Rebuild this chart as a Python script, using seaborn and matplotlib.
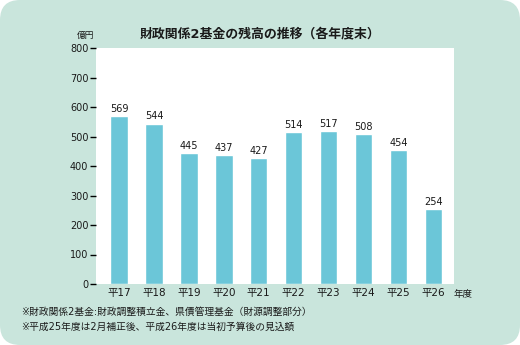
import matplotlib
matplotlib.use("Agg")
import matplotlib.pyplot as plt
import seaborn as sns
import pandas as pd
from matplotlib.patches import FancyBboxPatch

years = ["平17", "平18", "平19", "平20", "平21", "平22", "平23", "平24", "平25", "平26"]
values = [569, 544, 445, 437, 427, 514, 517, 508, 454, 254]
yticks = [0, 100, 200, 300, 400, 500, 600, 700, 800]
title = "財政関係2基金の残高の推移（各年度末）"
note1 = "※財政関係2基金:財政調整積立金、県債管理基金（財源調整部分）"
note2 = "※平成25年度は2月補正後、平成26年度は当初予算後の見込額"

sns.set_theme(style="white")
FAM = ["DejaVu Sans", "Noto Sans CJK JP"]
plt.rcParams["font.family"] = FAM

BG = "#C9E5DC"
BAR = "#6BC6D8"
TXT = "#1a1a1a"

fig = plt.figure(figsize=(5.2, 3.45), dpi=100)
fig.patch.set_facecolor("white")

# background rounded panel
bgax = fig.add_axes([0, 0, 1, 1], zorder=0)
bgax.set_xlim(0, 520)
bgax.set_ylim(0, 345)
bgax.axis("off")
bgax.add_patch(FancyBboxPatch((0, 0), 520, 345, boxstyle="round,pad=0,rounding_size=20",
                              facecolor=BG, edgecolor="none"))

ax = fig.add_axes([96/520, 61/345, 358/520, 236/345], zorder=1)
ax.set_facecolor("white")
df = pd.DataFrame({"year": years, "value": values})
sns.barplot(data=df, x="year", y="value", color=BAR, saturation=1, width=0.5, ax=ax)
ax.set_xlim(-0.66, 9.59)
ax.set_ylim(0, 800)
ax.set_yticks(yticks)
ax.set_yticklabels([str(v) for v in yticks], fontsize=7, color=TXT)
ax.set_xlabel("")
ax.set_ylabel("")
for s in ax.spines.values():
    s.set_visible(False)
ax.tick_params(axis="y", direction="out", length=4, width=1, color="black", pad=1.5, left=True)
ax.tick_params(axis="x", length=0, pad=3, labelsize=7.5, labelcolor=TXT)
for i, v in enumerate(values):
    ax.annotate(str(v), (i, v), xytext=(0, 1.5), textcoords="offset points",
                ha="center", va="bottom", fontsize=7, color=TXT)

fig.text(260/520, 1 - 34/345, title, ha="center", va="center", fontsize=9.3, fontweight="bold", color=TXT)
fig.text(86/520, 1 - 35/345, "億円", ha="center", va="center", fontsize=6.3, color=TXT)
fig.text(463/520, 1 - 294/345, "年度", ha="center", va="center", fontsize=6.8, color=TXT)
fig.text(21/520, 1 - 312/345, note1, ha="left", va="center", fontsize=7, color=TXT)
fig.text(21/520, 1 - 327/345, note2, ha="left", va="center", fontsize=7, color=TXT)

fig.savefig("out.png", dpi=100, facecolor="white")
